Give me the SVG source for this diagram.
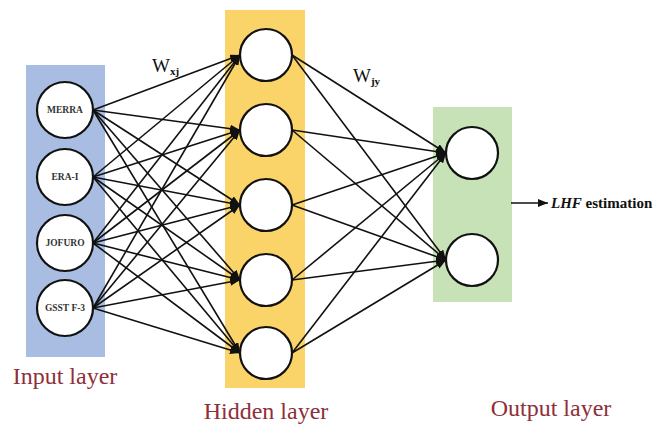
<svg xmlns="http://www.w3.org/2000/svg" width="660" height="430" viewBox="0 0 660 430">
<defs>
<marker id="ah" markerUnits="userSpaceOnUse" markerWidth="10" markerHeight="8" refX="10" refY="4" orient="auto">
<path d="M0,0 L10,4 L0,8 z" fill="#111"/>
</marker>
<style>
.n{fill:#fff;stroke:#111;stroke-width:2.2}
.c line{stroke:#111;stroke-width:1.6;marker-end:url(#ah)}
.in{font-family:"Liberation Serif",serif;font-weight:bold;font-size:9.5px;fill:#333;text-anchor:middle}
.lay{font-family:"Liberation Serif",serif;font-size:24px;fill:#8e2f3a;text-anchor:middle}
.w{font-family:"Liberation Serif",serif;font-size:19px;fill:#111}
.ws{font-size:11px;font-weight:bold}
</style>
</defs>
<rect x="0" y="0" width="660" height="430" fill="#fff"/>
<rect id="input-panel" x="26" y="65" width="79" height="292" fill="#a9bde2"/>
<rect id="hidden-panel" x="225" y="10" width="80" height="378" fill="#fad468"/>
<rect id="output-panel" x="433" y="107" width="79" height="195" fill="#c6e2b6"/>
<g class="c" id="connectors">
<line x1="93" y1="110" x2="240" y2="55"/><line x1="93" y1="110" x2="240" y2="130"/><line x1="93" y1="110" x2="240" y2="205"/><line x1="93" y1="110" x2="240" y2="280"/><line x1="93" y1="110" x2="240" y2="353"/>
<line x1="93" y1="177" x2="240" y2="55"/><line x1="93" y1="177" x2="240" y2="130"/><line x1="93" y1="177" x2="240" y2="205"/><line x1="93" y1="177" x2="240" y2="280"/><line x1="93" y1="177" x2="240" y2="353"/>
<line x1="93" y1="243" x2="240" y2="55"/><line x1="93" y1="243" x2="240" y2="130"/><line x1="93" y1="243" x2="240" y2="205"/><line x1="93" y1="243" x2="240" y2="280"/><line x1="93" y1="243" x2="240" y2="353"/>
<line x1="93" y1="308" x2="240" y2="55"/><line x1="93" y1="308" x2="240" y2="130"/><line x1="93" y1="308" x2="240" y2="205"/><line x1="93" y1="308" x2="240" y2="280"/><line x1="93" y1="308" x2="240" y2="353"/>
<line x1="292" y1="55" x2="446" y2="153"/><line x1="292" y1="55" x2="446" y2="260"/>
<line x1="292" y1="130" x2="446" y2="153"/><line x1="292" y1="130" x2="446" y2="260"/>
<line x1="292" y1="205" x2="446" y2="153"/><line x1="292" y1="205" x2="446" y2="260"/>
<line x1="292" y1="280" x2="446" y2="153"/><line x1="292" y1="280" x2="446" y2="260"/>
<line x1="292" y1="353" x2="446" y2="153"/><line x1="292" y1="353" x2="446" y2="260"/>
<line x1="511" y1="203" x2="548" y2="203"/>
</g>
<g id="in-merra"><circle class="n" cx="65" cy="110" r="28"/><text class="in" x="65" y="113">MERRA</text></g>
<g id="in-era"><circle class="n" cx="65" cy="177" r="28"/><text class="in" x="65" y="180">ERA-I</text></g>
<g id="in-jofuro"><circle class="n" cx="65" cy="243" r="28"/><text class="in" x="65" y="246">JOFURO</text></g>
<g id="in-gsst"><circle class="n" cx="65" cy="308" r="28"/><text class="in" x="65" y="311">GSST F-3</text></g>
<g id="h1"><circle class="n" cx="266" cy="55" r="26"/></g>
<g id="h2"><circle class="n" cx="266" cy="130" r="26"/></g>
<g id="h3"><circle class="n" cx="266" cy="205" r="26"/></g>
<g id="h4"><circle class="n" cx="266" cy="280" r="26"/></g>
<g id="h5"><circle class="n" cx="266" cy="353" r="26"/></g>
<g id="o1"><circle class="n" cx="472" cy="153" r="26"/></g>
<g id="o2"><circle class="n" cx="472" cy="260" r="26"/></g>
<text class="w" x="152" y="72">W<tspan class="ws" dy="3">xj</tspan></text>
<text class="w" x="353" y="82">W<tspan class="ws" dy="3">jy</tspan></text>
<text x="551" y="208" style="font-family:'Liberation Serif',serif;font-weight:bold;font-size:15px;fill:#111"><tspan font-style="italic">LHF</tspan> estimation</text>
<text class="lay" x="65" y="384">Input layer</text>
<text class="lay" x="266" y="419">Hidden layer</text>
<text class="lay" x="551" y="416">Output layer</text>
</svg>
